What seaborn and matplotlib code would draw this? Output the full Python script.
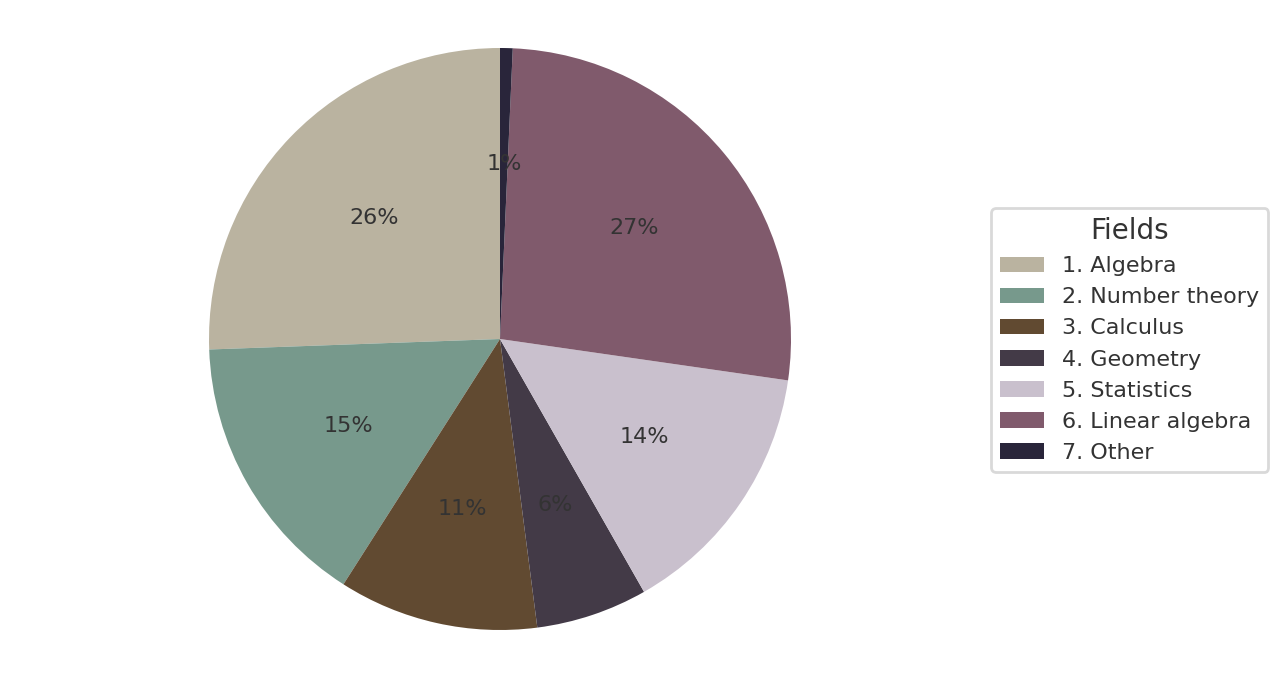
import matplotlib
matplotlib.use("Agg")
import matplotlib.pyplot as plt
import seaborn as sns

fields = ["1. Algebra", "2. Number theory", "3. Calculus", "4. Geometry",
          "5. Statistics", "6. Linear algebra", "7. Other"]
shares = [25.6, 15.4, 11.1, 6.2, 14.5, 26.6, 0.7]
colors = ["#BAB3A0", "#77998C", "#614A31", "#433A47", "#C9C0CD", "#805A6C", "#29253A"]

sns.set_theme(style="white")

fig = plt.figure(figsize=(12.88, 6.79), dpi=100)
ax = fig.add_axes([209 / 1288, 49 / 679, 582 / 1288, 582 / 679])
wedges, texts, autotexts = ax.pie(shares, colors=colors, startangle=90,
                                  autopct="%.0f%%", pctdistance=0.6,
                                  wedgeprops={"linewidth": 0},
                                  textprops={"fontsize": 16, "color": "#333333"})
ax.set_xlim(-1, 1)
ax.set_ylim(-1, 1)
ax.set_aspect("equal")

leg = fig.legend(wedges, fields, title="Fields", loc="center left",
                 bbox_to_anchor=(980 / 1288, 339 / 679), fontsize=16, title_fontsize=20,
                 frameon=True, labelcolor="#333333")
leg.get_title().set_color("#333333")
leg.get_frame().set_edgecolor("#d0d0d0")
leg.get_frame().set_linewidth(2)

fig.savefig("out.png", dpi=100)
